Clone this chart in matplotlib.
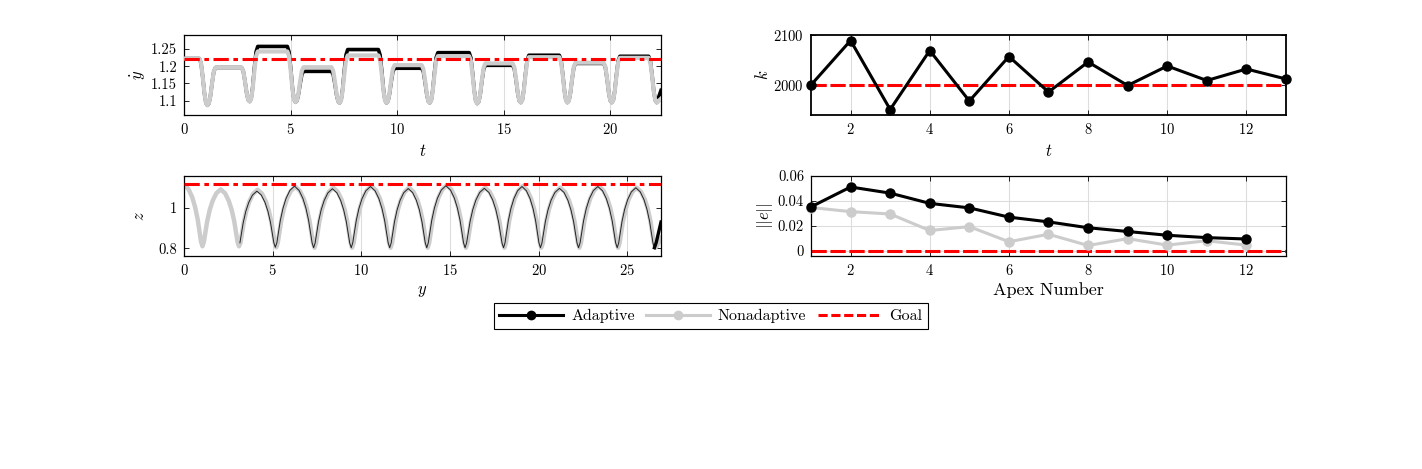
import matplotlib.pyplot as plt
from matplotlib.lines import Line2D
from matplotlib.ticker import FormatStrFormatter

plt.rcParams['font.family'] = ['cmr10', 'DejaVu Serif']
plt.rcParams['mathtext.fontset'] = 'cm'
plt.rcParams['axes.formatter.use_mathtext'] = True
plt.rcParams['font.size'] = 10.5

BLACK = 'black'
GRAY = '#cccccc'
RED = '#ff0000'

# ---- top-left: ydot vs t
dip_t = [1.1, 3.08, 5.23, 7.3, 9.5, 11.53, 13.76, 15.8, 17.99, 20.07, 22.18]
dip_min = [1.087, 1.098, 1.096, 1.094, 1.094, 1.094, 1.092, 1.095, 1.095, 1.095, 1.095]
ydot_start = 1.222
ydot_gray = [1.196, 1.2425, 1.197, 1.231, 1.203, 1.229, 1.208, 1.226, 1.21, 1.224]
ydot_black = [1.196, 1.257, 1.185, 1.248, 1.194, 1.239, 1.2025, 1.2315, 1.208, 1.2285]
ydot_end_gray = 1.106
ydot_end_black = 1.13
t_end = 22.38
ydot_goal = 1.222

# dip outline read from one stance phase: time offset / fraction of depth
dip_dt = [-0.38, -0.3, -0.22, -0.14, -0.07, 0.0, 0.07, 0.14, 0.22, 0.3, 0.38]
dip_shape = [0, 0.1, 0.4, 0.75, 0.95, 1.0, 0.95, 0.75, 0.4, 0.1, 0]

# ---- bottom-left: z vs y
z_min_y_gray = [1.04, 3.1, 5.2, 7.36, 9.48, 11.65, 13.74, 15.9, 18.07, 20.15, 22.3, 24.48, 26.58]
z_min_y_black = [1.04, 3.07, 5.15, 7.31, 9.43, 11.6, 13.69, 15.85, 18.02, 20.1, 22.25, 24.43, 26.53]
z_min = [0.81, 0.805, 0.803, 0.803, 0.803, 0.803, 0.803, 0.803, 0.803, 0.803, 0.803, 0.803, 0.803]
z_peak_gray = [1.092, 1.09, 1.105, 1.1, 1.108, 1.1, 1.112, 1.1, 1.108, 1.1, 1.108, 1.1]
z_peak_black = [1.09, 1.083, 1.108, 1.095, 1.106, 1.096, 1.11, 1.097, 1.106, 1.097, 1.106, 1.1]
z_start = 1.115
z_end_y = 26.9
z_end_gray = 0.85
z_end_black = 0.93
z_goal = 1.117
z_black_from = 3.1  # black trace hidden under the gray one before this

# arc outline read from one hop: phase / fraction of height
arc_p = [0, 0.04, 0.08, 0.13, 0.2, 0.28, 0.38, 0.5, 0.62, 0.72, 0.8, 0.87, 0.92, 0.96, 1]
arc_f = [0, 0.08, 0.24, 0.44, 0.64, 0.8, 0.93, 1, 0.93, 0.8, 0.64, 0.44, 0.24, 0.08, 0]

# ---- top-right: k per apex
apex_k = list(range(1, 14))
k_adaptive = [2000, 2089, 1951, 2069, 1968, 2057, 1986, 2046, 1999, 2038, 2009, 2032, 2012]
k_goal = 2000

# ---- bottom-right: ||e|| per apex
apex_e = list(range(1, 13))
e_adaptive = [0.0353, 0.0512, 0.0463, 0.0381, 0.0345, 0.0271, 0.0233, 0.0186, 0.0156, 0.0126, 0.0107, 0.0096]
e_nonadaptive = [0.0348, 0.0315, 0.0296, 0.0164, 0.0195, 0.0074, 0.0134, 0.0044, 0.0099, 0.0047, 0.0082, 0.0047]
e_goal = 0


def ydot_curve(levels, end_val):
    ts, vs = [0.0], [ydot_start]
    left = ydot_start
    for i, (tb, vmin) in enumerate(zip(dip_t, dip_min)):
        last = i == len(dip_t) - 1
        right = end_val if last else levels[i]
        for dt, f in zip(dip_dt, dip_shape):
            if dt < 0:
                ts.append(tb + dt)
                vs.append(left - f * (left - vmin))
            elif not last:
                ts.append(tb + dt)
                vs.append(right - f * (right - vmin))
        if last:
            ts.append(tb)
            vs.append(vmin)
            ts.append(t_end)
            vs.append(end_val)
        else:
            left = right
    return ts, vs


def z_curve(min_y, peaks, end_val):
    ys, zs = [], []
    # first part starts at the apex
    for p, f in zip(arc_p, arc_f):
        if p >= 0.5:
            ys.append((p - 0.5) / 0.5 * min_y[0])
            zs.append(z_min[0] + f * (z_start - z_min[0]))
    for i in range(len(min_y) - 1):
        y0, y1 = min_y[i], min_y[i + 1]
        for p, f in zip(arc_p[1:], arc_f[1:]):
            ys.append(y0 + p * (y1 - y0))
            zs.append(z_min[i] + f * (peaks[i] - z_min[i]))
    ys.append(min_y[-1] + 0.1)
    zs.append(z_min[-1] + 0.2 * (end_val - z_min[-1]))
    ys.append(z_end_y)
    zs.append(end_val)
    return ys, zs


def style(ax, grid_y=False):
    ax.tick_params(direction='in', top=True, right=True, length=3.5, width=0.6, labelsize=10.5, pad=5)
    ax.grid(axis='x', color='#dddddd', lw=0.8)
    if grid_y:
        ax.grid(axis='y', color='#dddddd', lw=0.8)
    ax.set_axisbelow(True)
    for s in ax.spines.values():
        s.set_linewidth(0.9)


fig = plt.figure(figsize=(14.22, 4.69), dpi=100)
W, H = 1422, 469
ax1 = fig.add_axes([184 / W, 1 - 115 / H, 477 / W, 80 / H])
ax2 = fig.add_axes([184 / W, 1 - 256 / H, 477 / W, 80 / H])
ax3 = fig.add_axes([811 / W, 1 - 115 / H, 475 / W, 80 / H])
ax4 = fig.add_axes([811 / W, 1 - 256 / H, 475 / W, 80 / H])

# top-left
tb, vb = ydot_curve(ydot_black, ydot_end_black)
tg, vg = ydot_curve(ydot_gray, ydot_end_gray)
ax1.plot(tb, vb, color=BLACK, lw=2.6, solid_joinstyle='round', zorder=2)
ax1.plot(tg, vg, color=GRAY, lw=3.0, solid_joinstyle='round', zorder=3)
ax1.axhline(ydot_goal, color=RED, lw=2.2, ls=(0, (5, 1.5, 1.5, 1.5)), zorder=4)
ax1.set_xlim(0, t_end)
ax1.set_ylim(1.059, 1.29)
ax1.set_xticks([0, 5, 10, 15, 20])
ax1.set_yticks([1.1, 1.15, 1.2, 1.25])
ax1.yaxis.set_major_formatter(FormatStrFormatter('%g'))
ax1.set_xlabel('$t$', fontsize=12, labelpad=4)
ax1.set_ylabel(r'$\dot{y}$', fontsize=12, labelpad=2)
style(ax1)

# bottom-left
yg, zg = z_curve(z_min_y_gray, z_peak_gray, z_end_gray)
yb, zb = z_curve(z_min_y_black, z_peak_black, z_end_black)
thin = [(y, z) for y, z in zip(yb[:-2], zb[:-2]) if y >= z_black_from]
ax2.plot(yg, zg, color=GRAY, lw=3.2, solid_joinstyle='round', zorder=2)
ax2.plot([p[0] for p in thin], [p[1] for p in thin], color='#222222', lw=0.7, zorder=3)
ax2.plot(yb[-3:], zb[-3:], color=BLACK, lw=2.4, zorder=3)
ax2.axhline(z_goal, color=RED, lw=2.2, ls=(0, (5, 1.5, 1.5, 1.5)), zorder=4)
ax2.set_xlim(0, z_end_y)
ax2.set_ylim(0.762, 1.158)
ax2.set_xticks([0, 5, 10, 15, 20, 25])
ax2.set_yticks([0.8, 1])
ax2.yaxis.set_major_formatter(FormatStrFormatter('%g'))
ax2.set_xlabel('$y$', fontsize=12, labelpad=4)
ax2.set_ylabel('$z$', fontsize=12, labelpad=8)
style(ax2)

# top-right
ax3.plot(apex_k, k_adaptive, color=BLACK, lw=2.2, marker='o', ms=6.5, zorder=3, clip_on=False)
ax3.axhline(k_goal, color=RED, lw=2.2, ls=(0, (5, 1.2)), zorder=2)
ax3.set_xlim(1, 13)
ax3.set_ylim(1940, 2100)
ax3.set_xticks([2, 4, 6, 8, 10, 12])
ax3.set_yticks([2000, 2100])
ax3.set_xlabel('$t$', fontsize=12, labelpad=4)
ax3.set_ylabel('$k$', fontsize=12, labelpad=2)
style(ax3)
for s in ax3.spines.values():
    s.set_linewidth(1.3)

# bottom-right
ax4.plot(apex_e, e_nonadaptive, color=GRAY, lw=2.2, marker='o', ms=6.5, zorder=3, clip_on=False)
ax4.plot(apex_e, e_adaptive, color=BLACK, lw=2.2, marker='o', ms=6.5, zorder=4, clip_on=False)
ax4.axhline(e_goal, color=RED, lw=2.2, ls=(0, (5, 1.2)), zorder=2)
ax4.set_xlim(1, 13)
ax4.set_ylim(-0.004, 0.06)
ax4.set_xticks([2, 4, 6, 8, 10, 12])
ax4.set_yticks([0, 0.02, 0.04, 0.06])
ax4.yaxis.set_major_formatter(FormatStrFormatter('%g'))
ax4.set_xlabel('Apex Number', fontsize=13, labelpad=3)
ax4.set_ylabel('$||e||$', fontsize=12, labelpad=2)
style(ax4, grid_y=True)

handles = [
    Line2D([], [], color=BLACK, lw=2.2, marker='o', ms=6),
    Line2D([], [], color=GRAY, lw=2.2, marker='o', ms=6),
    Line2D([], [], color=RED, lw=2.2, ls=(0, (3, 1.2))),
]
leg = fig.legend(handles, ['Adaptive', 'Nonadaptive', 'Goal'], loc='center',
                 bbox_to_anchor=(0.5, 1 - 316 / H), ncol=3, fontsize=11.5,
                 fancybox=False, edgecolor='black', framealpha=1,
                 handlelength=4, columnspacing=0.7, handletextpad=0.5, borderpad=0.35)
leg.get_frame().set_linewidth(0.8)

fig.savefig('out.png', dpi=100)
